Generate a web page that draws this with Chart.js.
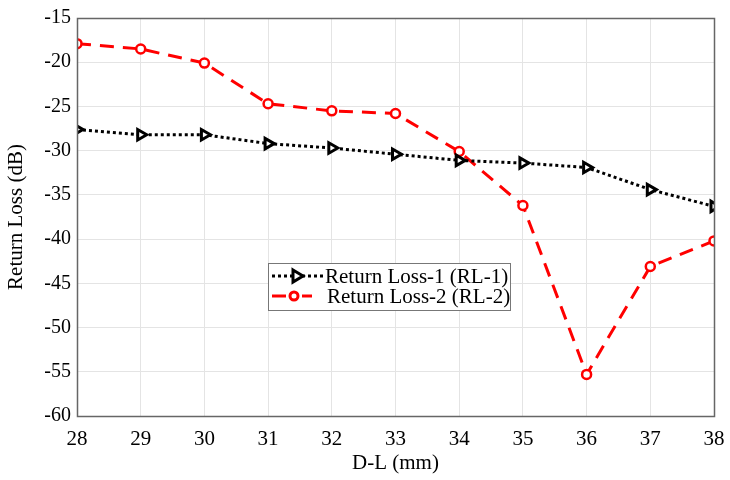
<!DOCTYPE html>
<html>
<head>
<meta charset="utf-8">
<script src="https://cdn.jsdelivr.net/npm/chart.js@4"></script>
<style>
  html, body { margin: 0; padding: 0; background: #fff; }
  #wrap { width: 730px; height: 480px; }
</style>
</head>
<body>
<div id="wrap"><canvas id="rlChart" width="730" height="480"></canvas></div>
<script>
const dlValues = [28, 29, 30, 31, 32, 33, 34, 35, 36, 37, 38];
const rl1 = [-27.6, -28.2, -28.2, -29.2, -29.7, -30.4, -31.1, -31.4, -31.9, -34.4, -36.3];
const rl2 = [-17.9, -18.5, -20.1, -24.7, -25.5, -25.8, -30.1, -36.2, -55.3, -43.1, -40.2];
const seriesNames = ['Return Loss-1 (RL-1)', 'Return Loss-2 (RL-2)'];

const FONT = "'Liberation Serif', 'Times New Roman', serif";

// frame around plot area, MATLAB style
const boxPlugin = {
    id: 'box',
    afterDraw(chart) {
        const { ctx, chartArea: a } = chart;
        ctx.save();
        ctx.strokeStyle = '#666';
        ctx.lineWidth = 1.5;
        ctx.strokeRect(a.left + 0.5, a.top + 0.5, a.right - a.left, a.bottom - a.top);
        ctx.restore();
    }
};

// legend box placed inside plot
const legendPlugin = {
    id: 'boxLegend',
    afterDraw(chart) {
        const { ctx } = chart;
        const x = 268, y = 263, w = 242, h = 47;
        ctx.save();
        ctx.fillStyle = '#fff';
        ctx.fillRect(x, y, w, h);
        ctx.strokeStyle = '#777';
        ctx.lineWidth = 1;
        ctx.strokeRect(x + 0.5, y + 0.5, w, h);
        ctx.font = '21px ' + FONT;
        ctx.textBaseline = 'middle';
        ctx.fillStyle = '#000';

        // RL-1 sample
        let ly = y + 13;
        ctx.strokeStyle = '#000';
        ctx.lineWidth = 3;
        ctx.setLineDash([3, 3]);
        ctx.beginPath(); ctx.moveTo(x + 4, ly); ctx.lineTo(x + 56, ly); ctx.stroke();
        ctx.setLineDash([]);
        ctx.fillStyle = '#fff';
        ctx.beginPath();
        ctx.moveTo(x + 25, ly - 6); ctx.lineTo(x + 35, ly); ctx.lineTo(x + 25, ly + 6); ctx.closePath();
        ctx.fill(); ctx.stroke();
        ctx.fillStyle = '#000';
        ctx.fillText(seriesNames[0], x + 57, ly + 1);

        // RL-2 sample
        ly = y + 33;
        ctx.strokeStyle = '#f00';
        ctx.lineWidth = 3;
        ctx.beginPath(); ctx.moveTo(x + 4, ly); ctx.lineTo(x + 18, ly); ctx.moveTo(x + 34, ly); ctx.lineTo(x + 44, ly); ctx.stroke();
        ctx.fillStyle = '#fff';
        ctx.beginPath(); ctx.arc(x + 26, ly, 4, 0, Math.PI * 2); ctx.fill(); ctx.stroke();
        ctx.fillStyle = '#000';
        ctx.fillText(seriesNames[1], x + 59, ly + 1);
        ctx.restore();
    }
};

const ctx = document.getElementById('rlChart').getContext('2d');
new Chart(ctx, {
    type: 'line',
    data: {
        datasets: [{
            label: seriesNames[0],
            data: dlValues.map((d, i) => ({ x: d, y: rl1[i] })),
            borderColor: '#000',
            borderWidth: 3,
            borderDash: [3, 3],
            pointStyle: 'triangle',
            rotation: 90,
            pointRadius: 6,
            pointBorderWidth: 3,
            pointBorderColor: '#000',
            pointBackgroundColor: '#fff',
            tension: 0
        }, {
            label: seriesNames[1],
            data: dlValues.map((d, i) => ({ x: d, y: rl2[i] })),
            borderColor: '#f00',
            borderWidth: 3,
            borderDash: [14, 9],
            pointStyle: 'circle',
            pointRadius: 4.5,
            pointBorderWidth: 2.5,
            pointBorderColor: '#f00',
            pointBackgroundColor: '#fff',
            tension: 0
        }]
    },
    options: {
        responsive: false,
        animation: false,
        layout: { padding: { top: 18, right: 16, left: 0, bottom: 0 } },
        plugins: { legend: { display: false }, tooltip: { enabled: false } },
        scales: {
            x: {
                type: 'linear',
                min: 28, max: 38,
                ticks: { stepSize: 1, color: '#000', font: { family: FONT, size: 21 }, padding: 11 },
                grid: { color: '#e4e4e4', drawTicks: false },
                border: { display: false },
                title: { display: true, text: 'D-L (mm)', color: '#000', font: { family: FONT, size: 21 }, padding: { top: 4 } },
                afterFit(scale) { scale.height = 64; scale.paddingRight = 0; scale.paddingLeft = 0; }
            },
            y: {
                min: -60, max: -15,
                ticks: { stepSize: 5, color: '#000', font: { family: FONT, size: 20 }, padding: 6 },
                grid: { color: '#e4e4e4', drawTicks: false },
                border: { display: false },
                title: { display: true, text: 'Return Loss (dB)', color: '#000', font: { family: FONT, size: 21 }, padding: { bottom: 0 } },
                afterFit(scale) { scale.width = 77; scale.paddingTop = 0; scale.paddingBottom = 0; }
            }
        }
    },
    plugins: [boxPlugin, legendPlugin]
});
</script>
</body>
</html>
